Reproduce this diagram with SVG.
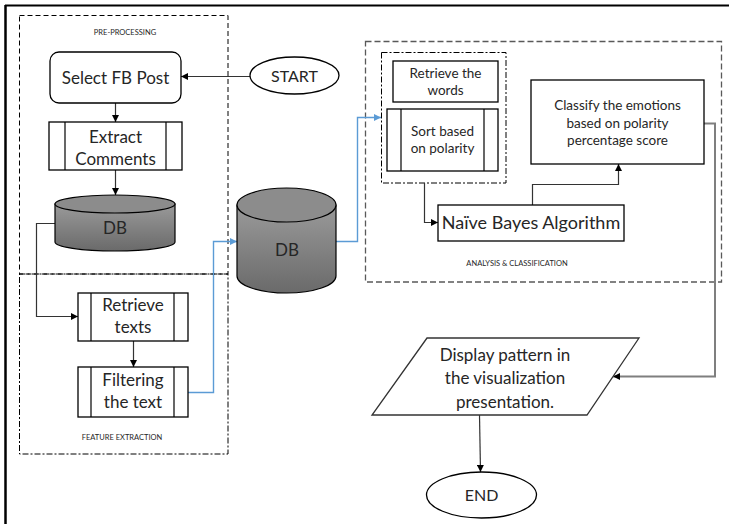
<svg xmlns="http://www.w3.org/2000/svg" width="729" height="524" viewBox="0 0 729 524">
<defs>
<style>
.t{font-family:Lato,"Liberation Sans",sans-serif;fill:#262626;text-anchor:middle}
.big{font-size:17px}
.mid{font-size:13.5px}
.lab{font-size:7.5px}
.box{fill:#fff;stroke:#000;stroke-width:1.3}
.con{fill:none;stroke:#333;stroke-width:1.2}
.gcon{fill:none;stroke:#7f7f7f;stroke-width:2}
.blue{fill:none;stroke:#5b9bd5;stroke-width:1.4}
.dash{fill:none;stroke:#000;stroke-width:1;stroke-dasharray:5 3}
.dashdot{fill:none;stroke:#000;stroke-width:1;stroke-dasharray:6 2 2 2}
.gdash{fill:none;stroke:#595959;stroke-width:1.3;stroke-dasharray:6 3}
.db{fill:url(#dbg);stroke:#000;stroke-width:1.2}
.dbtop{fill:#8c8c8c;stroke:#000;stroke-width:1.2}
</style>
<linearGradient id="dbg" x1="0" y1="0" x2="0" y2="1">
<stop offset="0" stop-color="#9a9a9a"/>
<stop offset="1" stop-color="#6a6a6a"/>
</linearGradient>
<marker id="ah" viewBox="0 0 10 10" refX="10" refY="5" markerWidth="7" markerHeight="7" markerUnits="userSpaceOnUse" orient="auto">
<path d="M0,0 L10,5 L0,10 z" fill="#000"/>
</marker>
<marker id="ahb" viewBox="0 0 10 10" refX="10" refY="5" markerWidth="7" markerHeight="7" markerUnits="userSpaceOnUse" orient="auto">
<path d="M0,0 L10,5 L0,10 z" fill="#5b9bd5"/>
</marker>
</defs>
<rect width="729" height="524" fill="#fff"/>
<g id="frame">
<line x1="5" y1="5.5" x2="729" y2="5.5" stroke="#000" stroke-width="2"/>
<line x1="5.5" y1="5" x2="5.5" y2="524" stroke="#000" stroke-width="2.5"/>
</g>
<g id="preprocessing">
<rect x="19.5" y="15.5" width="208.5" height="258.5" class="dash"/>
<text x="125" y="35" class="t lab">PRE-PROCESSING</text>
</g>
<g id="featureextraction">
<rect x="19.5" y="274" width="208.5" height="180" class="dashdot"/>
<text x="122" y="440" class="t lab">FEATURE EXTRACTION</text>
</g>
<g id="analysis">
<rect x="365.5" y="41.5" width="356" height="240.5" class="gdash"/>
<rect x="381.5" y="52.5" width="124.5" height="130.5" class="dashdot"/>
<text x="517" y="266" class="t lab">ANALYSIS &amp; CLASSIFICATION</text>
</g>
<g id="connectors">
<line x1="250" y1="76.5" x2="181" y2="76.5" class="con" marker-end="url(#ah)"/>
<line x1="115.5" y1="103" x2="115.5" y2="122" class="con" marker-end="url(#ah)"/>
<line x1="115.5" y1="170" x2="115.5" y2="195" class="con" marker-end="url(#ah)"/>
<polyline points="55,223.5 36.5,223.5 36.5,316.5 78,316.5" class="con" marker-end="url(#ah)"/>
<line x1="133.5" y1="341" x2="133.5" y2="367" class="con" marker-end="url(#ah)"/>
<polyline points="188,392.5 213.5,392.5 213.5,241.5 237,241.5" class="blue" marker-end="url(#ahb)"/>
<polyline points="336,241.5 357.5,241.5 357.5,117.5 381,117.5" class="blue" marker-end="url(#ahb)"/>
<polyline points="424.5,183 424.5,222.5 438,222.5" class="con" marker-end="url(#ah)"/>
<polyline points="532.5,205 532.5,184.5 618.5,184.5 618.5,164" class="con" marker-end="url(#ah)"/>
<polyline points="704,123.5 715,123.5 715,376.5 613,376.5" class="gcon" marker-end="url(#ah)"/>
<line x1="479.5" y1="415" x2="480.5" y2="472" class="con" marker-end="url(#ah)"/>
</g>
<g id="start">
<ellipse cx="294.5" cy="75.5" rx="44.5" ry="18.5" class="box"/>
<text x="294.5" y="81.5" class="t" font-size="16">START</text>
</g>
<g id="selectfb">
<rect x="50" y="52" width="131" height="51" rx="9" class="box"/>
<text x="115.5" y="84" class="t big">Select FB Post</text>
</g>
<g id="extract">
<rect x="49" y="122" width="133" height="48" class="box"/>
<line x1="65" y1="122" x2="65" y2="170" stroke="#000" stroke-width="1.2"/>
<line x1="166" y1="122" x2="166" y2="170" stroke="#000" stroke-width="1.2"/>
<text x="115.5" y="143" class="t big">Extract</text>
<text x="115.5" y="165" class="t big">Comments</text>
</g>
<g id="db1">
<path d="M55,204 V242 A60,9 0 0 0 175,242 V204 Z" class="db"/>
<ellipse cx="115" cy="204" rx="60" ry="9" class="dbtop"/>
<text x="115" y="234" class="t big">DB</text>
</g>
<g id="retrievetexts">
<rect x="78" y="293" width="110" height="48" class="box"/>
<line x1="91" y1="293" x2="91" y2="341" stroke="#000" stroke-width="1.2"/>
<line x1="174" y1="293" x2="174" y2="341" stroke="#000" stroke-width="1.2"/>
<text x="133" y="311" class="t big">Retrieve</text>
<text x="133" y="333" class="t big">texts</text>
</g>
<g id="filtering">
<rect x="78" y="367" width="110" height="50" class="box"/>
<line x1="91" y1="367" x2="91" y2="417" stroke="#000" stroke-width="1.2"/>
<line x1="174" y1="367" x2="174" y2="417" stroke="#000" stroke-width="1.2"/>
<text x="133" y="386" class="t big">Filtering</text>
<text x="133" y="408" class="t big">the text</text>
</g>
<g id="db2">
<path d="M237,205 V276 A49.5,17 0 0 0 336,276 V205 Z" class="db"/>
<ellipse cx="286.5" cy="205" rx="49.5" ry="17" class="dbtop"/>
<text x="287" y="256" class="t big">DB</text>
</g>
<g id="retrievewords">
<rect x="393" y="61" width="105" height="41" class="box"/>
<text x="445.5" y="78" class="t mid">Retrieve the</text>
<text x="445.5" y="95" class="t mid">words</text>
</g>
<g id="sort">
<rect x="387" y="109" width="111" height="62" class="box"/>
<line x1="401" y1="109" x2="401" y2="171" stroke="#000" stroke-width="1.2"/>
<line x1="484" y1="109" x2="484" y2="171" stroke="#000" stroke-width="1.2"/>
<text x="442.5" y="136" class="t mid">Sort based</text>
<text x="442.5" y="153" class="t mid">on polarity</text>
</g>
<g id="classify">
<rect x="531" y="80" width="173" height="84" class="box"/>
<text x="617.5" y="110" class="t mid">Classify the emotions</text>
<text x="617.5" y="128" class="t mid">based on polarity</text>
<text x="617.5" y="145" class="t mid">percentage score</text>
</g>
<g id="naivebayes">
<rect x="438" y="205" width="186" height="36" class="box"/>
<text x="531" y="229" class="t" font-size="18">Naïve Bayes Algorithm</text>
</g>
<g id="display">
<polygon points="427,338 639,338 587,415 372,415" fill="#fff" stroke="#333" stroke-width="1.3"/>
<text x="505" y="361" class="t big">Display pattern in</text>
<text x="505" y="384" class="t big">the visualization</text>
<text x="505" y="408" class="t big">presentation.</text>
</g>
<g id="end">
<ellipse cx="481.5" cy="495" rx="55" ry="23" class="box"/>
<text x="481.5" y="501" class="t" font-size="16">END</text>
</g>
</svg>
